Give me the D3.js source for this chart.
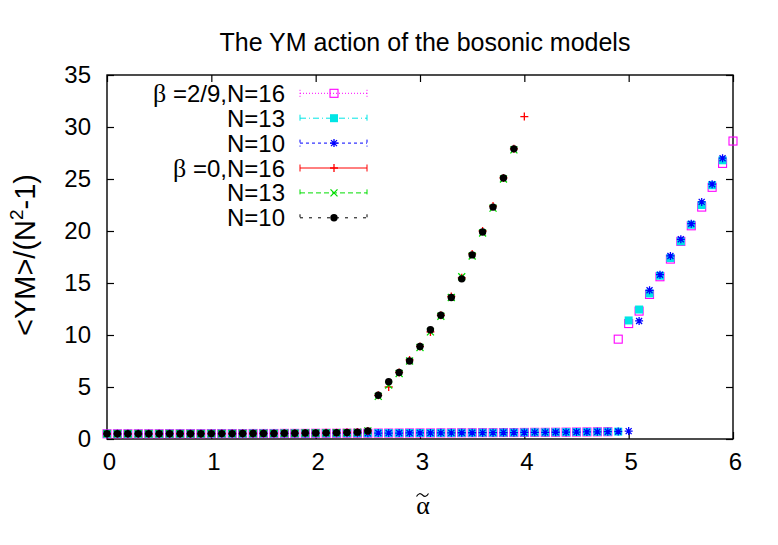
<!DOCTYPE html>
<html><head><meta charset="utf-8">
<script src="https://cdn.jsdelivr.net/npm/d3@7"></script>
<style>body{margin:0;background:#fff} svg{display:block}</style>
</head><body><svg id="c" width="778" height="545"></svg>
<script>
// ---------------- DATA ----------------
const alpha = [
  0.0,0.1,0.2,0.3,0.4,0.5,0.6,0.7,0.8,0.9,
  1.0,1.1,1.2,1.3,1.4,1.5,1.6,1.7,1.8,1.9,
  2.0,2.1,2.2,2.3,2.4,2.5,2.6,2.7,2.8,2.9,
  3.0,3.1,3.2,3.3,3.4,3.5,3.6,3.7,3.8,3.9,
  4.0,4.1,4.2,4.3,4.4,4.5,4.6,4.7,4.8,4.9,
  5.0,5.1,5.2,5.3,5.4,5.5,5.6,5.7,5.8,5.9,
  6.0];

// beta = 2/9
const b29N16 = [
  0.50,0.50,0.50,0.50,0.50,0.50,0.51,0.51,0.51,0.51,
  0.52,0.52,0.52,0.52,0.53,0.53,0.53,0.54,0.54,0.54,
  0.55,0.55,0.55,0.56,0.56,0.56,0.57,0.57,0.57,0.58,
  0.58,0.58,0.59,0.59,0.60,0.60,0.61,0.61,0.62,0.62,
  0.63,0.64,0.64,0.65,0.66,0.67,0.68,0.69,0.70,9.6,
  11.1,12.3,13.9,15.6,17.3,19.0,20.5,22.3,24.2,26.5,
  28.65];
const b29N13 = [
  0.50,0.50,0.50,0.50,0.50,0.50,0.51,0.51,0.51,0.51,
  0.52,0.52,0.52,0.52,0.53,0.53,0.53,0.54,0.54,0.54,
  0.55,0.55,0.55,0.56,0.56,0.56,0.57,0.57,0.57,0.58,
  0.58,0.58,0.59,0.59,0.60,0.60,0.61,0.61,0.62,0.62,
  0.63,0.64,0.64,0.65,0.66,0.67,0.68,0.69,0.70,0.71,
  11.4,12.45,14.0,15.7,17.4,19.0,20.6,22.5,24.4,26.8];
const b29N10 = [
  0.50,0.50,0.50,0.50,0.50,0.50,0.51,0.51,0.51,0.51,
  0.52,0.52,0.52,0.52,0.53,0.53,0.53,0.54,0.54,0.54,
  0.55,0.55,0.55,0.56,0.56,0.56,0.57,0.57,0.57,0.58,
  0.58,0.58,0.59,0.59,0.60,0.60,0.61,0.61,0.62,0.62,
  0.63,0.64,0.64,0.65,0.66,0.67,0.68,0.69,0.70,0.72,
  0.76,11.35,14.3,15.8,17.6,19.2,20.7,22.8,24.5,27.0];

// beta = 0
const b0N16 = [
  0.50,0.50,0.50,0.50,0.50,0.50,0.51,0.51,0.51,0.51,
  0.52,0.52,0.52,0.53,0.53,0.54,0.54,0.55,0.56,0.57,
  0.58,0.59,0.61,0.63,0.66,0.78,4.2,5.0,6.4,7.6,
  8.9,10.3,11.9,13.7,15.5,17.8,20.0,22.4,25.1,27.9,
  31.0];
const b0N13 = [
  0.50,0.50,0.50,0.50,0.50,0.50,0.51,0.51,0.51,0.51,
  0.52,0.52,0.52,0.53,0.53,0.54,0.54,0.55,0.56,0.57,
  0.58,0.59,0.61,0.63,0.66,0.78,4.1,5.2,6.3,7.5,
  8.8,10.3,11.8,13.6,15.6,17.6,19.8,22.2,25.0,27.8];
const b0N10 = [
  0.50,0.50,0.50,0.50,0.50,0.50,0.51,0.51,0.51,0.51,
  0.52,0.52,0.52,0.53,0.53,0.54,0.54,0.55,0.56,0.57,
  0.58,0.59,0.61,0.63,0.66,0.78,4.2,5.5,6.4,7.5,
  8.9,10.5,11.9,13.6,15.4,17.7,19.9,22.3,25.1,27.9];

const xTicks = [0,1,2,3,4,5,6];
const yTicks = [0,5,10,15,20,25,30,35];
const seriesLabels = [
  {beta: "β", rest: " =2/9,N=16"},
  {beta: "",  rest: "N=13"},
  {beta: "",  rest: "N=10"},
  {beta: "β", rest: " =0,N=16"},
  {beta: "",  rest: "N=13"},
  {beta: "",  rest: "N=10"}
];

// ---------------- CHART ----------------
const svg = d3.select("#c");
const L = 107, R = 733, T = 75, B = 439;
const x = d3.scaleLinear().domain([0, 6]).range([L, R]);
const y = d3.scaleLinear().domain([0, 35]).range([B, T]);
const sans = "'Liberation Sans', Arial, Helvetica, sans-serif";
const serif = "'Liberation Serif', 'DejaVu Serif', serif";

const series = [
  {vals: b29N16, color: "#ff00ff", marker: "osq",  dash: "1,2"},
  {vals: b29N13, color: "#00e5e5", marker: "fsq",  dash: "6,3,1,3"},
  {vals: b29N10, color: "#0000ff", marker: "star", dash: "3,3"},
  {vals: b0N16,  color: "#ff0000", marker: "plus", dash: null},
  {vals: b0N13,  color: "#00dd00", marker: "cross",dash: "5,3"},
  {vals: b0N10,  color: "#000000", marker: "dot",  dash: "3,6"}
];

function drawMarker(g, type, cx, cy, color) {
  if (type === "osq") {
    g.append("rect").attr("x", cx-4).attr("y", cy-4).attr("width", 8).attr("height", 8)
      .attr("fill", "none").attr("stroke", color).attr("stroke-width", 1.1);
  } else if (type === "fsq") {
    g.append("rect").attr("x", cx-4).attr("y", cy-4).attr("width", 8).attr("height", 8)
      .attr("fill", color);
  } else if (type === "star") {
    const h = 4;
    g.append("path").attr("d", `M${cx-h},${cy}H${cx+h}M${cx},${cy-h}V${cy+h}M${cx-h*0.75},${cy-h*0.75}L${cx+h*0.75},${cy+h*0.75}M${cx-h*0.75},${cy+h*0.75}L${cx+h*0.75},${cy-h*0.75}`)
      .attr("stroke", color).attr("stroke-width", 1.3).attr("fill", "none");
  } else if (type === "plus") {
    const h = 4;
    g.append("path").attr("d", `M${cx-h},${cy}H${cx+h}M${cx},${cy-h}V${cy+h}`)
      .attr("stroke", color).attr("stroke-width", 1.3).attr("fill", "none");
  } else if (type === "cross") {
    const h = 3.5;
    g.append("path").attr("d", `M${cx-h},${cy-h}L${cx+h},${cy+h}M${cx-h},${cy+h}L${cx+h},${cy-h}`)
      .attr("stroke", color).attr("stroke-width", 1.3).attr("fill", "none");
  } else if (type === "dot") {
    g.append("circle").attr("cx", cx).attr("cy", cy).attr("r", 3.7).attr("fill", color);
  }
}

// title
svg.append("text").attr("x", 425).attr("y", 51).attr("text-anchor", "middle")
  .attr("font-family", sans).attr("font-size", 25).text("The YM action of the bosonic models");

// frame
svg.append("rect").attr("x", L).attr("y", T).attr("width", R-L).attr("height", B-T)
  .attr("fill", "none").attr("stroke", "#000").attr("stroke-width", 1.4);

// axes (ticks inward, mirrored)
const axB = d3.axisBottom(x).tickValues(xTicks).tickSize(-7).tickPadding(14).tickFormat(d3.format("d"));
const axT = d3.axisTop(x).tickValues(xTicks).tickSize(-7).tickFormat("");
const axL = d3.axisLeft(y).tickValues(yTicks).tickSize(-7).tickPadding(16).tickFormat(d3.format("d"));
const axR = d3.axisRight(y).tickValues(yTicks).tickSize(-7).tickFormat("");
function styleAxis(g) {
  g.select(".domain").remove();
  g.selectAll(".tick line").attr("stroke", "#000").attr("stroke-width", 1.2);
  g.selectAll(".tick text").attr("font-family", sans).attr("font-size", 24).attr("fill", "#000");
}
svg.append("g").attr("transform", `translate(0,${B})`).call(axB).call(styleAxis)
  .selectAll(".tick text").attr("dx", 2);
svg.append("g").attr("transform", `translate(0,${T})`).call(axT).call(styleAxis);
svg.append("g").attr("transform", `translate(${L},0)`).call(axL).call(styleAxis);
svg.append("g").attr("transform", `translate(${R},0)`).call(axR).call(styleAxis);

// axis labels
svg.append("text").attr("x", 423).attr("y", 514).attr("text-anchor", "middle")
  .attr("font-family", serif).attr("font-size", 26).text("α");
// tilde accent over alpha (drawn as a small wave)
svg.append("path").attr("d", "M416.5,496.5 C418.5,493 420.5,493 422.5,495 C424.5,497 426.5,497 428.5,493.5")
  .attr("fill", "none").attr("stroke", "#000").attr("stroke-width", 1.1);
const yl = svg.append("text").attr("transform", "translate(35,255) rotate(-90)")
  .attr("text-anchor", "middle").attr("font-family", sans).attr("font-size", 29);
yl.append("tspan").text("<YM>/(N");
yl.append("tspan").attr("font-size", 19).attr("dy", -12).text("2");
yl.append("tspan").attr("dy", 12).text("-1)");

// data
series.forEach(s => {
  const g = svg.append("g");
  s.vals.forEach((v, i) => {
    if (v == null) return;
    drawMarker(g, s.marker, x(alpha[i]), y(v), s.color);
  });
});

// legend
const legY0 = 93.3, legDy = 24.9;
series.forEach((s, i) => {
  const yy = legY0 + i * legDy;
  const g = svg.append("g");
  const t = g.append("text").attr("x", 285).attr("y", yy + 8.5).attr("text-anchor", "end")
    .attr("font-family", sans).attr("font-size", 24);
  if (seriesLabels[i].beta) t.append("tspan").attr("font-family", serif).attr("font-size", 26).text(seriesLabels[i].beta);
  t.append("tspan").text(seriesLabels[i].rest);
  const line = g.append("path").attr("d", `M300,${yy}H367M300,${yy-3.5}V${yy+3.5}M367,${yy-3.5}V${yy+3.5}`)
    .attr("stroke", s.color).attr("stroke-width", 1).attr("fill", "none");
  if (s.dash) line.attr("stroke-dasharray", s.dash);
  drawMarker(g, s.marker, 334, yy, s.color);
});
</script>
</body></html>
